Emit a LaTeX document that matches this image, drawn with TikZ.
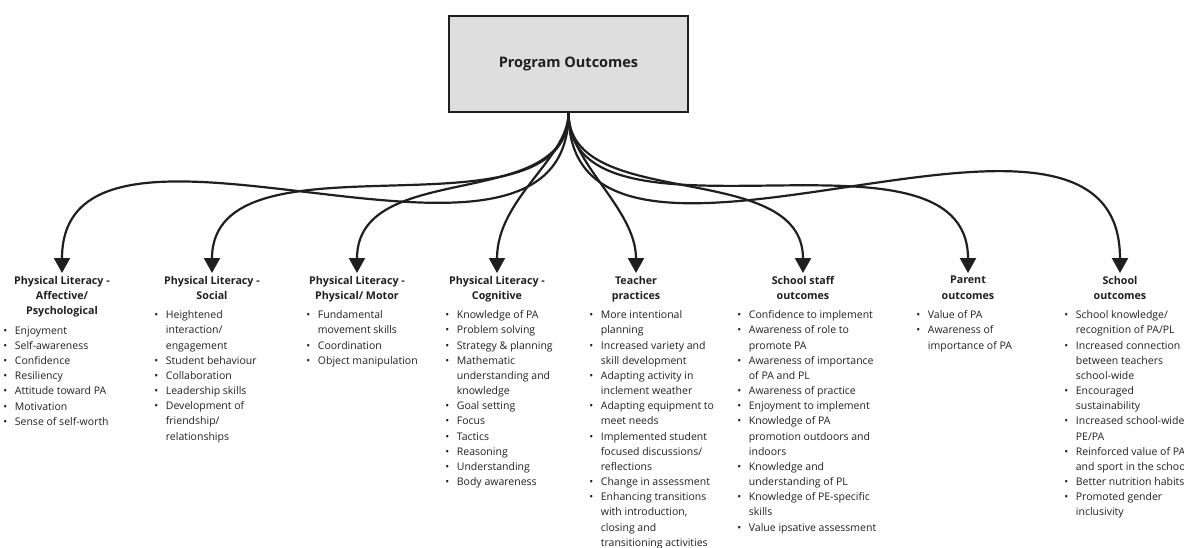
\documentclass[tikz,border=0pt]{standalone}
\usepackage{fontspec}
\setmainfont{Open Sans}
\usetikzlibrary{arrows.meta}
\definecolor{ink}{HTML}{1F1F1F}
\definecolor{boxgray}{HTML}{DEDEDE}
\newcommand\bul{\rule{0pt}{9pt}\makebox[11.5pt][l]{\textbullet}}
\newcommand\nxt{\hspace*{11.5pt}}
\begin{document}
\begin{tikzpicture}[x=1pt,y=-1pt,
  ttl/.style={anchor=north,align=center,inner xsep=0pt,inner ysep=3pt,text=ink,
    font=\bfseries\fontsize{10.7}{15.3}\selectfont},
  lst/.style={anchor=north west,align=left,inner sep=0pt,text=ink,
    font=\fontsize{10.5}{15.17}\selectfont},
  link/.style={draw=ink,line width=2.2pt,-{Triangle[length=15pt,width=16pt]}}]
\useasboundingbox (0,0) rectangle (1184,547);
\node[draw=ink,line width=2pt,fill=boxgray,minimum width=239pt,minimum height=96pt,
  font=\bfseries\fontsize{14.5}{17}\selectfont,text=ink] (po) at (568.5,64) {Program Outcomes};
\node[ttl] (t1) at (62,273) {Physical Literacy -\\Affective/\\Psychological};
\node[ttl] (t2) at (212,273) {Physical Literacy -\\Social};
\node[ttl] (t3) at (357,273) {Physical Literacy -\\Physical/ Motor};
\node[ttl] (t4) at (497,273) {Physical Literacy -\\Cognitive};
\node[ttl] (t5) at (636,273) {Teacher\\practices};
\node[ttl] (t6) at (803,273) {School staff\\outcomes};
\node[ttl] (t7) at (968,273) {Parent\\outcomes};
\node[ttl] (t8) at (1120,273) {School\\outcomes};
\draw[link] (po.south) .. controls +(0,215) and +(0,-210) .. (t1.north);
\draw[link] (po.south) .. controls +(0,135) and +(0,-150) .. (t2.north);
\draw[link] (po.south) .. controls +(0,100) and +(0,-115) .. (t3.north);
\draw[link] (po.south) .. controls +(0,45) and +(0,-75) .. (t4.north);
\draw[link] (po.south) .. controls +(0,50) and +(0,-65) .. (t5.north);
\draw[link] (po.south) .. controls +(0,100) and +(0,-115) .. (t6.north);
\draw[link] (po.south) .. controls +(0,150) and +(0,-165) .. (t7.north);
\draw[link] (po.south) .. controls +(0,230) and +(0,-240) .. (t8.north);
\node[lst] (l1) at (3.2,325) {\bul Enjoyment\\\bul Self-awareness\\\bul Confidence\\
  \bul Resiliency\\\bul Attitude toward PA\\\bul Motivation\\\bul Sense of self-worth};
\node[lst] (l2) at (154.2,309.5) {\bul Heightened\\\nxt interaction/\\\nxt engagement\\
  \bul Student behaviour\\\bul Collaboration\\\bul Leadership skills\\
  \bul Development of\\\nxt friendship/\\\nxt relationships};
\node[lst] (l3) at (306.2,309.5) {\bul Fundamental\\\nxt movement skills\\
  \bul Coordination\\\bul Object manipulation};
\node[lst] (l4) at (445.2,309.5) {\bul Knowledge of PA\\\bul Problem solving\\
  \bul Strategy \& planning\\\bul Mathematic\\\nxt understanding and\\\nxt knowledge\\
  \bul Goal setting\\\bul Focus\\\bul Tactics\\\bul Reasoning\\\bul Understanding\\
  \bul Body awareness};
\node[lst] (l5) at (589.2,309.5) {\bul More intentional\\\nxt planning\\
  \bul Increased variety and\\\nxt skill development\\
  \bul Adapting activity in\\\nxt inclement weather\\
  \bul Adapting equipment to\\\nxt meet needs\\
  \bul Implemented student\\\nxt focused discussions/\\\nxt reflections\\
  \bul Change in assessment\\
  \bul Enhancing transitions\\\nxt with introduction,\\\nxt closing and\\
  \nxt transitioning activities};
\node[lst] (l6) at (737.2,309.5) {\bul Confidence to implement\\
  \bul Awareness of role to\\\nxt promote PA\\
  \bul Awareness of importance\\\nxt of PA and PL\\
  \bul Awareness of practice\\\bul Enjoyment to implement\\
  \bul Knowledge of PA\\\nxt promotion outdoors and\\\nxt indoors\\
  \bul Knowledge and\\\nxt understanding of PL\\
  \bul Knowledge of PE-specific\\\nxt skills\\
  \bul Value ipsative assessment};
\node[lst] (l7) at (916.2,309.5) {\bul Value of PA\\\bul Awareness of\\\nxt importance of PA};
\node[lst] (l8) at (1064.2,309.5) {\bul School knowledge/\\\nxt recognition of PA/PL\\
  \bul Increased connection\\\nxt between teachers\\\nxt school-wide\\
  \bul Encouraged\\\nxt sustainability\\
  \bul Increased school-wide\\\nxt PE/PA\\
  \bul Reinforced value of PA\\\nxt and sport in the school\\
  \bul Better nutrition habits\\
  \bul Promoted gender\\\nxt inclusivity};
\end{tikzpicture}
\end{document}
